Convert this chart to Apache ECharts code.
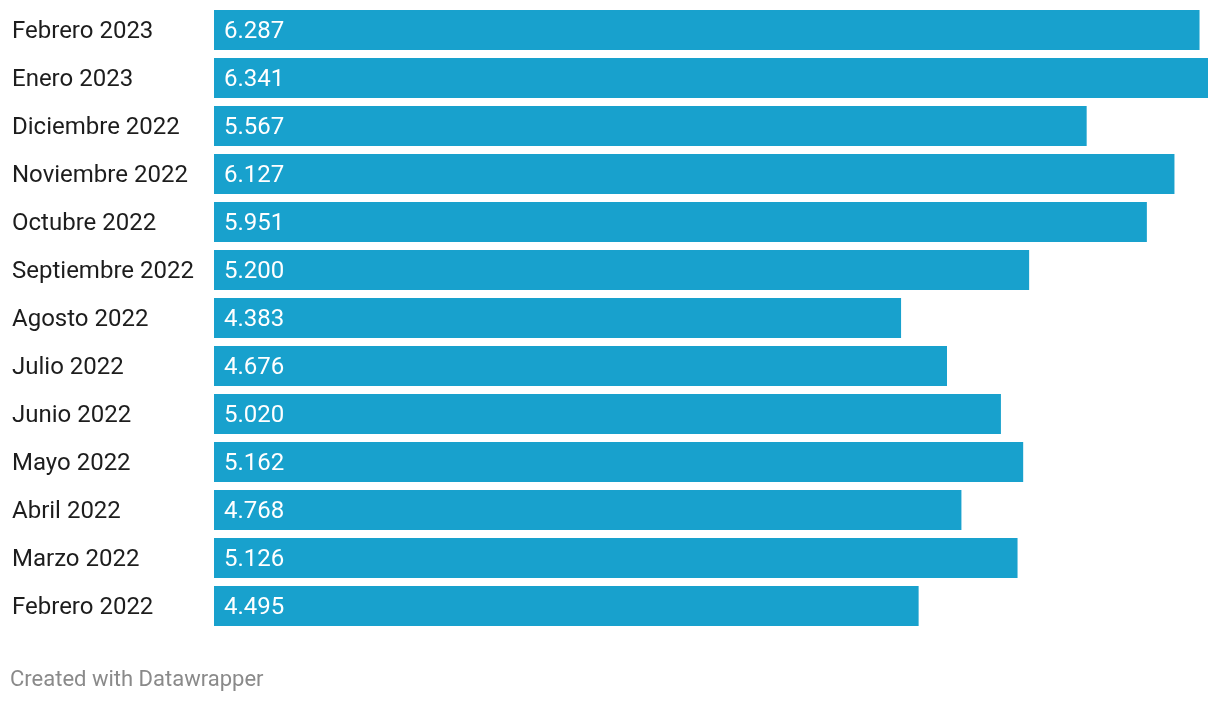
<!DOCTYPE html>
<html><head><meta charset="utf-8">
<script src="https://cdn.jsdelivr.net/npm/echarts@6/dist/echarts.min.js"></script>
<style>html,body{margin:0;padding:0;background:#fff;}#c{width:1220px;height:702px;}</style>
</head><body><div id="c"></div>
<script>
const categories = ["Febrero 2023","Enero 2023","Diciembre 2022","Noviembre 2022","Octubre 2022","Septiembre 2022","Agosto 2022","Julio 2022","Junio 2022","Mayo 2022","Abril 2022","Marzo 2022","Febrero 2022"];
const values = [6287,6341,5567,6127,5951,5200,4383,4676,5020,5162,4768,5126,4495];
const footer = "Created with Datawrapper";
function fmt(v){return String(v).replace(/\B(?=(\d{3})+(?!\d))/g,'.');}
const chart = echarts.init(document.getElementById('c'));
chart.setOption({
  animation:false,
  grid:{left:214,right:12,top:6,height:624},
  xAxis:{type:'value',min:0,max:6341,show:false},
  yAxis:{type:'category',data:categories,inverse:true,
    axisLine:{show:false},axisTick:{show:false},
    axisLabel:{align:'left',margin:202,formatter:v=>'{a|'+v+'}',
      rich:{a:{fontFamily:'Roboto',fontSize:24,color:'#1d1d1d',padding:[4,0,0,0]}}}},
  series:[{type:'bar',data:values,barWidth:40,itemStyle:{color:'#18a1cd'},
    label:{show:true,position:'insideLeft',distance:10,offset:[0,2],color:'#fff',fontFamily:'Roboto',fontSize:24,formatter:p=>fmt(p.value)}}],
  graphic:[{type:'text',left:10,top:669,style:{text:footer,fontFamily:'Roboto',fontSize:22,fill:'#8a8a8a'}}]
});
</script></body></html>
